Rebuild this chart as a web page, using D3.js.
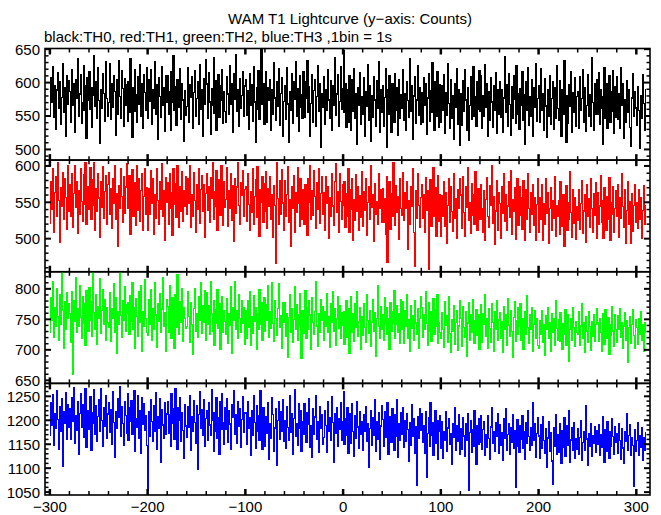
<!DOCTYPE html>
<html><head><meta charset="utf-8">
<script src="https://cdn.jsdelivr.net/npm/d3@7"></script>
<style>body{margin:0;background:#fff}svg{display:block}text{font-family:"Liberation Sans",Arial,sans-serif;fill:#000}</style>
</head><body>
<script>
const titleText = "WAM T1 Lightcurve (y\u2212axis: Counts)";
const subtitleText = "black:TH0, red:TH1, green:TH2, blue:TH3 ,1bin = 1s";
const startTime = -300; // 1 bin = 1 s
const xTickLabels = [-300,-200,-100,0,100,200,300];

const th0 = [
553,607,571,624,548,596,530,589,615,562,601,537,578,629,556,592,520,611,568,603,
587,541,619,566,598,525,604,577,636,549,583,612,539,570,626,558,595,516,608,574,
617,560,592,533,581,640,565,601,546,622,573,509,590,561,613,584,542,631,576,550,
570,628,545,599,563,611,587,521,604,552,633,579,547,618,591,535,606,566,597,542,
601,556,636,574,518,593,557,620,582,541,609,568,627,550,598,531,612,585,559,623,
546,604,572,619,537,589,561,632,552,597,515,608,579,548,624,566,593,527,611,570,
610,553,587,529,616,571,640,558,594,536,605,563,582,621,545,599,574,512,588,551,
564,622,540,597,578,609,532,585,618,549,576,601,537,627,560,590,519,606,567,634,
598,547,615,571,523,591,566,638,554,603,529,580,612,548,596,573,620,539,587,557,
541,609,583,552,625,568,599,526,614,575,642,557,590,534,606,562,581,617,549,595,
605,551,588,530,613,566,597,542,624,571,510,593,560,618,545,585,651,567,599,538,
562,616,540,592,574,605,528,589,553,630,577,544,601,565,621,536,584,608,519,572,
596,545,623,568,511,587,559,614,539,602,575,631,550,591,527,610,563,582,546,617,
548,601,576,633,555,594,520,569,612,541,588,605,534,579,626,557,598,503,584,563,
609,538,590,559,620,574,547,603,528,596,566,637,551,583,612,535,572,624,560,591,
648,556,598,533,589,541,611,572,529,604,557,621,546,584,507,593,566,615,538,579,
553,607,520,586,564,627,543,596,512,581,548,609,574,535,603,561,631,526,590,556,
596,534,578,621,503,589,552,610,567,526,598,571,540,614,558,592,521,605,547,582,
562,619,544,583,529,602,573,548,636,557,596,515,580,609,539,574,625,551,593,537,
585,541,608,566,599,523,577,614,542,588,555,630,564,528,601,549,616,571,533,597,
541,596,558,612,524,585,551,629,569,532,604,547,580,515,598,563,621,538,590,506,
584,536,603,557,619,574,528,592,513,566,609,545,587,624,550,579,534,601,560,618,
557,610,531,580,549,627,563,598,519,586,544,607,571,533,596,558,615,524,589,552,
602,548,589,526,577,639,555,597,535,613,567,521,594,546,610,575,539,625,553,584,
530,591,566,617,544,582,507,601,558,623,536,579,549,605,520,592,563,628,542,576,
596,540,621,559,583,528,606,565,518,589,550,611,537,576,602,530,593,547,625,561,
544,603,567,519,590,552,633,574,510,581,539,597,564,616,526,585,556,608,535,579,
587,531,609,558,576,620,541,593,527,566,612,549,582,535,637,570,529,598,553,604,
552,615,538,590,562,507,579,623,546,599,532,571,610,540,586,557,618,524,594,548,
609,545,583,531,622,566,598,517,574,541,603,556,590,533,505,577,614,549,587,562,
536,594,558,502,580,547,612,569,528,590];

const th1 = [
521,578,540,597,509,563,586,531,604,552,495,570,544,591,526,583,557,513,600,538,
575,530,589,516,562,601,543,579,507,566,534,596,551,524,588,547,604,519,571,540,
556,598,527,581,546,604,511,569,537,590,556,502,578,543,599,528,565,587,519,575,
591,534,569,514,583,549,600,527,562,489,573,541,596,558,522,586,535,571,603,548,
542,587,506,563,595,530,577,553,518,601,539,582,524,566,589,512,558,597,533,570,
512,569,534,593,548,583,506,561,528,597,552,519,578,540,603,531,566,497,584,550,
577,520,589,541,563,505,596,547,576,529,600,555,515,571,538,592,524,566,545,585,
533,582,548,601,516,560,530,591,553,509,574,540,597,521,568,587,537,575,502,562,
590,539,572,523,584,556,604,527,565,545,593,511,556,581,532,601,549,518,578,543,
554,598,517,566,541,589,525,573,496,583,535,571,604,546,520,577,559,594,530,568,
572,524,590,547,511,565,536,597,519,558,581,529,599,541,503,567,550,585,522,576,
538,592,514,569,545,586,527,560,502,573,546,466,605,555,519,580,533,595,549,511,
580,531,561,599,523,554,490,571,542,587,509,563,536,598,548,517,582,527,567,544,
520,574,539,505,583,550,601,526,566,532,593,558,514,577,540,596,521,562,586,533,
563,512,585,548,572,500,556,530,590,545,518,579,603,536,565,509,589,551,527,574,
546,578,515,562,531,596,508,567,540,583,498,554,525,588,537,571,512,559,529,592,
517,565,539,583,504,550,572,526,601,543,560,496,576,533,551,519,590,541,567,523,
569,522,555,506,586,467,547,579,513,562,530,604,545,518,573,536,558,499,582,541,
532,591,525,563,541,578,485,553,520,571,544,597,508,462,566,528,589,546,515,557,
575,528,560,509,584,539,566,458,545,581,517,556,598,531,570,503,549,587,524,561,
503,559,531,578,517,564,494,546,583,522,571,537,510,589,528,555,500,567,541,582,
560,514,585,536,503,571,543,598,525,550,507,576,532,561,519,592,545,512,569,530,
526,575,541,509,566,497,554,584,530,516,573,546,601,521,558,492,538,580,511,563,
548,501,572,535,589,524,561,512,545,578,529,594,506,554,537,570,499,552,583,518,
571,532,557,513,580,545,498,567,526,590,541,509,563,534,575,518,556,497,547,583,
509,556,527,574,498,548,519,582,535,563,494,541,570,512,553,528,585,503,546,531,
552,506,578,533,517,561,489,540,573,511,549,527,592,536,502,568,521,557,499,544,
525,567,513,548,580,507,538,561,495,574,530,555,516,583,542,509,562,532,577,501,
563,519,545,587,522,553,500,570,536,511,558,526,584,497,549,533,572,508,541,566,
531,575,502,556,528,589,544,515,567,493,539,578,520,551,494,562,510,546,575,523,
549,514,568,526,557,500,539,573,519,545];

const th2 = [
729,786,748,812,721,770,739,801,755,715,790,742,827,764,703,779,733,794,751,776,
760,712,795,660,781,746,818,728,767,738,806,753,719,788,744,775,707,797,762,731,
802,748,779,722,826,761,734,790,709,771,751,816,727,764,798,741,782,716,769,745,
737,793,714,768,751,809,728,785,694,762,741,826,756,720,781,749,803,731,774,759,
778,725,789,747,811,733,769,702,784,755,722,796,745,806,697,763,738,815,752,728,
723,782,741,798,715,768,733,811,757,704,775,746,792,728,767,818,738,761,698,783,
771,729,806,747,719,785,755,703,790,736,823,760,726,779,745,801,714,769,752,735,
738,795,754,712,777,742,692,768,801,731,760,720,787,749,810,727,773,745,797,716,
793,741,772,725,812,759,730,781,708,766,744,799,735,776,701,757,788,729,764,747,
726,784,711,759,740,803,694,770,748,812,733,765,718,790,752,728,781,743,769,709,
765,718,781,736,796,708,754,727,789,746,770,701,759,733,799,741,778,715,751,786,
731,774,748,805,720,762,735,811,743,714,780,752,723,768,808,737,756,702,777,745,
778,722,760,688,753,791,729,767,712,750,803,734,774,716,757,792,740,686,764,727,
742,797,719,770,734,781,757,701,786,745,725,763,812,738,705,759,729,783,748,771,
716,763,739,792,728,754,704,776,745,796,731,767,707,751,787,735,772,718,761,740,
762,709,753,781,720,767,694,741,788,729,759,714,776,737,795,722,747,770,701,755,
724,775,736,712,790,748,727,764,705,745,783,730,761,690,752,805,739,718,771,734,
757,716,786,741,769,725,752,700,778,731,763,744,797,719,742,773,728,759,710,783,
733,779,711,764,738,790,719,749,698,772,735,756,715,781,744,726,767,703,752,788,
769,720,757,734,796,743,707,778,730,762,713,749,784,725,766,738,791,711,745,729,
718,761,733,704,779,740,756,712,787,727,695,750,731,772,709,745,765,699,739,781,
752,706,771,736,721,763,690,744,778,715,758,729,783,748,711,738,766,723,757,700,
729,774,712,759,741,790,722,751,703,767,735,712,776,745,698,762,733,781,716,749,
761,719,747,696,771,733,757,708,784,740,722,765,730,687,753,779,714,748,726,769,
738,776,715,752,700,744,762,725,789,736,711,757,733,770,697,741,764,719,752,707,
703,748,726,765,712,741,691,756,733,770,718,745,697,759,729,752,708,781,735,715,
749,714,761,730,700,743,725,766,707,738,757,681,733,752,716,770,737,705,746,728,
726,762,707,739,775,718,744,696,755,731,712,763,738,699,747,722,758,714,741,768,
744,713,751,728,697,760,734,709,766,740,718,753,693,742,724,771,731,706,757,733,
712,756,733,768,720,745,702,739,761,715,748,680,736,755,711,742,766,724,703,750,
737,709,752,725,763,716,741,698,745,729];

const th3 = [
1168,1236,1189,1253,1147,1214,1182,1262,1201,1139,1228,1176,1245,1104,1219,1193,1257,1160,1232,1185,
1224,1161,1247,1197,1269,1152,1209,1178,1240,1128,1214,1255,1186,1233,1165,1206,1266,1143,1221,1190,
1181,1250,1137,1217,1193,1264,1171,1230,1156,1208,1243,1176,1267,1199,1145,1226,1188,1251,1163,1213,
1237,1174,1222,1150,1259,1196,1122,1218,1183,1245,1205,1271,1166,1229,1194,1148,1239,1210,1172,1256,
1159,1227,1198,1241,1170,1213,1262,1135,1204,1186,1252,1163,1220,1131,1247,1192,1235,1178,1210,1148,
1054,1219,1167,1243,1198,1155,1231,1176,1258,1140,1207,1184,1245,1112,1222,1190,1163,1236,1171,1213,
1238,1172,1211,1146,1255,1193,1224,1160,1266,1181,1139,1226,1200,1247,1156,1215,1179,1121,1233,1188,
1165,1228,1185,1252,1137,1208,1176,1241,1195,1152,1230,1097,1212,1259,1183,1223,1168,1244,1146,1204,
1220,1157,1236,1190,1168,1263,1199,1134,1216,1177,1248,1162,1205,1129,1238,1181,1255,1196,1149,1227,
1180,1245,1153,1221,1192,1140,1233,1206,1262,1170,1211,1151,1240,1187,1224,1143,1202,1250,1175,1216,
1215,1150,1239,1183,1206,1127,1221,1168,1252,1195,1142,1230,1176,1209,1158,1262,1190,1139,1226,1173,
1146,1207,1172,1236,1119,1193,1163,1248,1212,1135,1184,1225,1106,1199,1240,1161,1218,1177,1243,1155,
1200,1141,1229,1185,1158,1251,1174,1213,1128,1204,1264,1167,1192,1147,1235,1182,1220,1136,1197,1171,
1235,1179,1154,1216,1192,1245,1143,1188,1122,1224,1170,1207,1252,1161,1198,1133,1229,1183,1211,1150,
1164,1221,1189,1132,1238,1177,1205,1157,1250,1196,1112,1214,1172,1227,1146,1203,1181,1236,1159,1197,
1259,1149,1203,1168,1226,1131,1190,1214,1152,1235,1177,1125,1209,1163,1240,1186,1142,1219,1171,1198,
1138,1211,1176,1229,1155,1194,1101,1182,1221,1147,1206,1169,1243,1134,1197,1160,1215,1119,1188,1230,
1201,1145,1219,1164,1187,1236,1129,1175,1208,1153,1225,1190,1137,1212,1166,1244,1123,1192,1158,1216,
1170,1227,1143,1199,1156,1214,1181,1114,1195,1148,1233,1167,1204,1130,1186,1063,1208,1162,1224,1179,
1213,1153,1189,1130,1218,1081,1173,1206,1145,1236,1168,1195,1126,1181,1221,1151,1199,1118,1176,1209,
1142,1197,1121,1176,1158,1218,1135,1184,1203,1149,1172,1108,1193,1165,1227,1138,1189,1155,1212,1129,
1183,1140,1206,1167,1124,1192,1157,1214,1054,1175,1199,1133,1181,1146,1220,1161,1108,1188,1150,1203,
1154,1210,1139,1181,1198,1126,1171,1143,1209,1162,1119,1186,1227,1152,1177,1136,1195,1166,1213,1131,
1191,1148,1175,1116,1204,1163,1224,1137,1170,1194,1128,1185,1153,1211,1142,1179,1059,1168,1201,1145,
1132,1188,1160,1209,1141,1177,1118,1196,1151,1221,1166,1137,1184,1147,1236,1158,1194,1123,1172,1205,
1167,1120,1190,1141,1208,1157,1131,1182,1102,1163,1197,1136,1174,1115,1066,1185,1145,1211,1128,1171,
1133,1192,1150,1109,1178,1143,1205,1125,1168,1189,1147,1220,1112,1159,1184,1137,1196,1121,1162,1139,
1183,1129,1164,1199,1117,1154,1176,1138,1230,1161,1105,1172,1146,1193,1124,1167,1151,1187,1132,1178,
1149,1190,1127,1170,1143,1208,1160,1112,1181,1135,1198,1156,1121,1176,1145,1203,1166,1129,1186,1153,
1172,1131,1194,1157,1118,1183,1142,1109,1177,1155,1213,1138,1168,1191,1126,1163,1147,1061,1180,1135,
1158,1195,1126,1169,1144,1185,1117,1163,1137,1175];

const seriesNames = ["TH0","TH1","TH2","TH3"];
const seriesColors = ["#000000","#ff0000","#00ff00","#0000ff"];
const seriesValues = [th0, th1, th2, th3];
const yDomains = [[484,651],[454.5,608],[645,828],[1044,1277]];
const yTickLabels = [[500,550,600,650],[500,550,600],[650,700,750,800],[1050,1100,1150,1200,1250]];

const W = 661, H = 515;
const L = 45, R = 650, T = 48.5, B = 495;
const svg = d3.select("body").append("svg").attr("width", W).attr("height", H);
const x = d3.scaleLinear().domain([-305, 314]).range([L, R]);
const ph = (B - T) / 4;
const fs = 15;

svg.append("text").attr("x", 350).attr("y", 24).attr("text-anchor", "middle")
  .attr("font-size", fs).text(titleText);
svg.append("text").attr("x", 44).attr("y", 42).attr("font-size", fs).text(subtitleText);

const defs = svg.append("defs");
const xMinor = d3.range(-300, 301, 20);

seriesValues.forEach((vals, k) => {
  const y0 = T + k * ph, y1 = y0 + ph;
  const y = d3.scaleLinear().domain(yDomains[k]).range([y1, y0]);
  defs.append("clipPath").attr("id", "c" + k).append("rect")
    .attr("x", L).attr("y", y0).attr("width", R - L).attr("height", ph);
  const pts = vals.map((v, i) => [startTime + i, v]);
  pts.push([startTime + vals.length, vals[vals.length - 1]]);
  const line = d3.line().x(d => x(d[0])).y(d => y(d[1])).curve(d3.curveStepAfter);
  svg.append("path").attr("d", line(pts)).attr("clip-path", "url(#c" + k + ")")
    .attr("fill", "none").attr("stroke", seriesColors[k]).attr("stroke-width", 1.2)
    .attr("shape-rendering", "crispEdges");

  const g = svg.append("g").attr("stroke", "#000").attr("fill", "none");
  g.append("rect").attr("x", L).attr("y", y0).attr("width", R - L).attr("height", ph)
    .attr("stroke-width", 1.6);
  xMinor.forEach(v => {
    const major = v % 100 === 0;
    const len = major ? 6 : 4;
    const sw = major ? 2.5 : 1.5;
    g.append("line").attr("x1", x(v)).attr("x2", x(v)).attr("y1", y0).attr("y2", y0 + len).attr("stroke-width", sw);
    g.append("line").attr("x1", x(v)).attr("x2", x(v)).attr("y1", y1).attr("y2", y1 - len).attr("stroke-width", sw);
  });
  const yMin = Math.ceil(yDomains[k][0] / 10) * 10;
  const yMinorVals = d3.range(yMin, yDomains[k][1], 10);
  yMinorVals.forEach(v => {
    const major = v % 50 === 0;
    const len = major ? 6 : 3.5;
    const sw = major ? 2 : 1.5;
    g.append("line").attr("x1", L).attr("x2", L + len).attr("y1", y(v)).attr("y2", y(v)).attr("stroke-width", sw);
    g.append("line").attr("x1", R).attr("x2", R - len).attr("y1", y(v)).attr("y2", y(v)).attr("stroke-width", sw);
  });
  yTickLabels[k].forEach(v => {
    svg.append("text").attr("x", L - 5).attr("y", y(v)).attr("dy", "0.36em")
      .attr("text-anchor", "end").attr("font-size", fs).text(v);
  });
});

const fmt = d3.format("d");
xTickLabels.forEach(v => {
  svg.append("text").attr("x", x(v)).attr("y", 512).attr("text-anchor", "middle")
    .attr("font-size", fs).text(fmt(v));
});
</script>
</body></html>
